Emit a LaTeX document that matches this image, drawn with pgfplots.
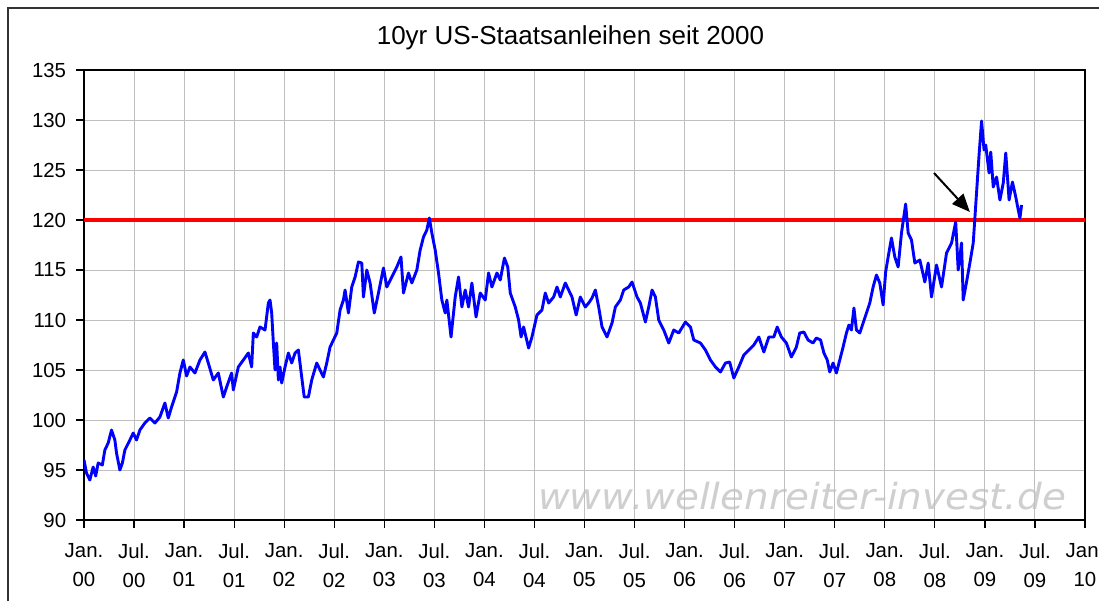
\documentclass[border=0pt]{standalone}
\usepackage{fontspec}
\setmainfont{Liberation Sans}
\newfontfamily\wmfont{DejaVu Sans}
\usepackage{pgfplots}
\pgfplotsset{compat=1.18}
\usetikzlibrary{arrows.meta}
\begin{document}
\begin{tikzpicture}
\useasboundingbox (0,0) rectangle (549.5pt,300.5pt);
\fill[white] (0,0) rectangle (549.5pt,300.5pt);
\draw[line width=1pt, black!80] (4pt,0) -- (4pt,296.5pt) -- (549.5pt,296.5pt);
\node[anchor=base, font=\fontsize{13}{15}\selectfont, inner sep=0pt] at (285.25pt,278pt) {10yr US-Staatsanleihen seit 2000};
\node[anchor=base, font=\wmfont\itshape\fontsize{18}{20}\selectfont, text=black!19, xscale=1.08, inner sep=0pt] at (401pt,46pt) {www.wellenreiter-invest.de};
\begin{axis}[
  at={(42pt,40.5pt)}, anchor=south west,
  scale only axis, width=500.5pt, height=225pt,
  xmin=0, xmax=120, ymin=90, ymax=135,
  xtick={0,6,...,120}, ytick={90,95,...,135},
  xticklabels={{Jan.\\00},{Jul.\\00},{Jan.\\01},{Jul.\\01},{Jan.\\02},{Jul.\\02},{Jan.\\03},{Jul.\\03},{Jan.\\04},{Jul.\\04},{Jan.\\05},{Jul.\\05},{Jan.\\06},{Jul.\\06},{Jan.\\07},{Jul.\\07},{Jan.\\08},{Jul.\\08},{Jan.\\09},{Jul.\\09},{Jan.\\10}},
  xticklabel style={align=center, font=\fontsize{10.2}{14.5}\selectfont, inner sep=0pt, yshift=-8pt},
  yticklabel style={font=\fontsize{10.2}{12}\selectfont, inner sep=0pt, xshift=-5pt},
  /pgf/number format/assume math mode=true,
  tick align=outside, tick pos=left, major tick length=3.75pt,
  tick style={black, line width=0.6pt},
  grid=major, major grid style={black!25, line width=0.5pt},
  axis line style={black, line width=0.7pt},
]
\addplot[red, line width=2pt] coordinates {(0,120) (120,120)};
\addplot[blue, line width=1.45pt, line join=round] coordinates {
(0,96.0) (0.3,94.7) (0.7,94.0) (1.1,95.3) (1.4,94.4) (1.7,95.7) (2.2,95.5) (2.5,97.0) (2.9,97.7) (3.3,99.0)
(3.7,98.0) (3.9,96.7) (4.3,95.0) (4.6,95.7) (4.9,97.0) (5.5,98.0) (5.9,98.7) (6.3,98.0) (6.7,99.0) (7.3,99.7)
(7.9,100.2) (8.5,99.7) (9.1,100.3) (9.7,101.7) (10.1,100.2) (10.5,101.3) (11.1,102.8) (11.5,104.7) (11.9,106.0) (12.3,104.4)
(12.7,105.3) (13.3,104.7) (13.9,106.0) (14.5,106.8) (14.9,105.7) (15.5,104.0) (16.1,104.7) (16.7,102.3) (17.1,103.3) (17.7,104.7)
(17.9,103.0) (18.5,105.3) (19.1,106.0) (19.7,106.7) (20.1,105.3) (20.3,108.7) (20.7,108.3) (21.1,109.3) (21.7,109.0) (22.1,111.7)
(22.3,112.0) (22.5,110.7) (22.7,107.7) (22.9,105.0) (23.1,107.7) (23.3,104.0) (23.5,105.3) (23.7,103.7) (24.1,105.3) (24.5,106.7)
(24.9,105.7) (25.3,106.7) (25.7,107.0) (26.1,104.3) (26.4,102.3) (26.9,102.3) (27.3,104.0) (27.9,105.7) (28.3,105.0) (28.7,104.3)
(29.1,105.7) (29.5,107.3) (29.9,108.0) (30.3,108.7) (30.7,111.0) (31.1,112.0) (31.3,113.0) (31.7,110.7) (32.1,113.3) (32.5,114.3)
(32.9,115.8) (33.3,115.7) (33.5,112.3) (33.9,115.0) (34.3,113.7) (34.8,110.7) (35.2,112.3) (35.9,115.2) (36.3,113.3) (36.9,114.3)
(37.5,115.3) (38.0,116.3) (38.3,112.7) (38.9,114.7) (39.3,113.7) (39.9,115.0) (40.3,117.0) (40.7,118.3) (41.1,119.0) (41.4,120.2)
(41.7,118.7) (42.1,117.0) (42.5,114.7) (42.9,112.0) (43.3,110.7) (43.5,112.0) (44.0,108.3) (44.5,112.3) (44.9,114.3) (45.3,111.3)
(45.7,113.0) (46.1,111.3) (46.5,113.7) (47.0,110.3) (47.5,112.7) (48.1,112.0) (48.5,114.7) (48.9,113.3) (49.5,114.7) (49.9,114.0)
(50.4,116.2) (50.8,115.3) (51.1,112.7) (51.7,111.3) (52.1,110.0) (52.4,108.3) (52.7,109.3) (53.3,107.2) (53.7,108.3) (54.3,110.5)
(54.9,111.0) (55.3,112.7) (55.7,111.7) (56.3,112.3) (56.7,113.3) (57.1,112.3) (57.7,113.7) (58.1,113.0) (58.5,112.3) (59.0,110.5)
(59.5,112.3) (60.1,111.3) (60.5,111.7) (60.9,112.2) (61.3,113.0) (61.7,111.3) (62.1,109.3) (62.7,108.3) (63.3,109.7) (63.7,111.3)
(64.3,112.0) (64.7,113.0) (65.3,113.3) (65.7,113.8) (66.3,112.3) (66.7,111.7) (67.3,109.8) (67.7,111.3) (68.1,113.0) (68.5,112.3)
(68.9,110.0) (69.5,109.0) (70.1,107.7) (70.7,109.0) (71.3,108.7) (72.1,109.8) (72.7,109.3) (73.1,108.0) (73.9,107.7) (74.5,107.0)
(75.1,106.0) (75.7,105.3) (76.3,104.8) (76.9,105.7) (77.4,105.8) (77.9,104.2) (78.5,105.3) (79.1,106.5) (79.7,107.0) (80.3,107.5)
(80.9,108.3) (81.5,106.8) (82.1,108.3) (82.7,108.3) (83.1,109.3) (83.6,108.3) (84.2,107.7) (84.8,106.3) (85.4,107.3) (85.8,108.7)
(86.3,108.8) (86.8,108.0) (87.4,107.7) (87.8,108.2) (88.3,108.0) (88.7,106.7) (89.1,106.0) (89.4,104.8) (89.8,105.7) (90.2,104.7)
(90.6,106.0) (91.0,107.3) (91.4,108.7) (91.7,109.5) (92.0,109.0) (92.3,111.2) (92.6,109.0) (93.0,108.7) (93.4,109.7) (93.8,110.7)
(94.2,111.7) (94.6,113.3) (95.0,114.5) (95.4,113.7) (95.8,111.5) (96.1,114.8) (96.4,116.3) (96.8,118.2) (97.2,116.3) (97.6,115.3)
(98.0,118.7) (98.5,121.6) (98.8,118.7) (99.2,118.0) (99.6,115.7) (100.2,116.0) (100.8,113.8) (101.2,115.7) (101.6,112.3) (102.2,115.5)
(102.8,113.3) (103.4,116.7) (104.0,117.7) (104.5,119.8) (104.8,115.0) (105.2,117.7) (105.4,112.0) (105.8,113.8) (106.2,115.7) (106.6,117.7)
(106.8,120.2) (107.1,124.0) (107.3,126.5) (107.6,129.9) (107.9,127.0) (108.1,127.5) (108.5,124.7) (108.7,126.8) (109.0,123.3) (109.4,124.3)
(109.8,122.0) (110.2,123.7) (110.5,126.7) (110.9,122.0) (111.3,123.8) (111.7,122.3) (112.0,121.0) (112.2,120.2) (112.4,121.5)
};
\draw[-{Triangle[length=9pt,width=7.5pt]}, line width=1pt, black] (axis cs:101.9,124.7) -- (axis cs:106.2,120.8);
\end{axis}
\end{tikzpicture}
\end{document}
